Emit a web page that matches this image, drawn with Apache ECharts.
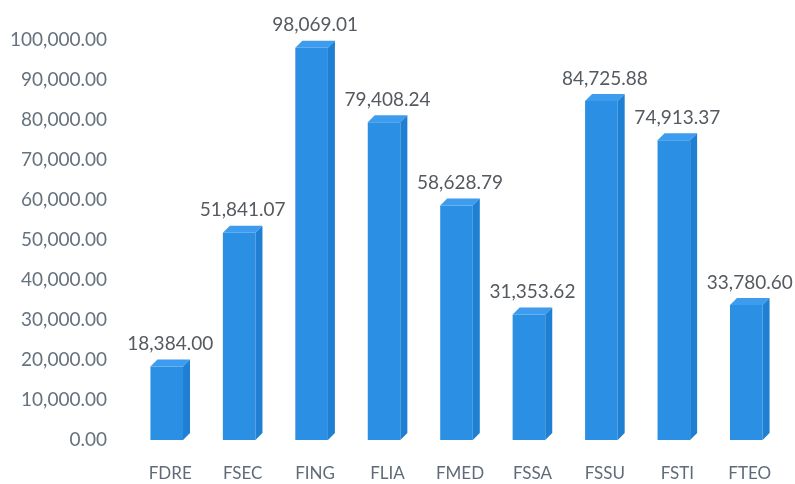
<!DOCTYPE html>
<html>
<head>
<meta charset="utf-8">
<script src="https://cdn.jsdelivr.net/npm/echarts@6/dist/echarts.min.js"></script>
<style>
  html, body { margin: 0; padding: 0; background: #fff; }
  #chart1 { width: 795px; height: 484px; }
</style>
</head>
<body>
<div id="chart1"></div>
<script>
var categories = ['FDRE', 'FSEC', 'FING', 'FLIA', 'FMED', 'FSSA', 'FSSU', 'FSTI', 'FTEO'];
var values = [18384.00, 51841.07, 98069.01, 79408.24, 58628.79, 31353.62, 84725.88, 74913.37, 33780.60];

var chartDom = document.getElementById('chart1');
var myChart = echarts.init(chartDom);

function fmt(v) {
  return v.toLocaleString('en-US', { minimumFractionDigits: 2, maximumFractionDigits: 2 });
}

// fake 3d box: front, top and right side
function renderItem(params, api) {
  var top = api.coord([api.value(0), api.value(1)]);
  var base = api.coord([api.value(0), 0]);
  var band = api.size([1, 0])[0];
  var w = band * 0.45;
  var d = 7;
  var x0 = top[0] - w / 2 - d / 2;
  var x1 = x0 + w;
  var yt = top[1];
  var yb = base[1];
  return {
    type: 'group',
    children: [
      {
        type: 'rect',
        shape: { x: x0, y: yt, width: w, height: yb - yt },
        style: { fill: '#2b8fe4' }
      },
      {
        type: 'polygon',
        shape: { points: [[x0, yt], [x0 + d, yt - d], [x1 + d, yt - d], [x1, yt]] },
        style: { fill: '#3d9cee' }
      },
      {
        type: 'polygon',
        shape: { points: [[x1, yt], [x1 + d, yt - d], [x1 + d, yb - d], [x1, yb]] },
        style: { fill: '#1f7fd2' }
      },
      {
        type: 'text',
        style: {
          text: fmt(api.value(1)),
          x: top[0],
          y: top[1] - 13,
          align: 'center',
          verticalAlign: 'bottom',
          fill: '#555a60',
          font: '19px Lato'
        }
      }
    ]
  };
}

var option = {
  animation: false,
  grid: { left: 134, right: 9, top: 40, bottom: 44 },
  xAxis: {
    type: 'category',
    data: categories,
    axisLine: { show: false },
    axisTick: { show: false },
    axisLabel: { color: '#5f6b78', fontFamily: 'Lato', fontSize: 17, margin: 25 }
  },
  yAxis: {
    type: 'value',
    min: 0,
    max: 100000,
    interval: 10000,
    splitLine: { show: false },
    axisLine: { show: false },
    axisLabel: {
      color: '#66727f',
      fontFamily: 'Lato',
      fontSize: 19,
      margin: 27,
      formatter: function (v) { return fmt(v); }
    }
  },
  series: [
    {
      type: 'custom',
      renderItem: renderItem,
      encode: { x: 0, y: 1 },
      data: categories.map(function (c, i) { return [i, values[i]]; })
    }
  ]
};

option && myChart.setOption(option);
</script>
</body>
</html>
